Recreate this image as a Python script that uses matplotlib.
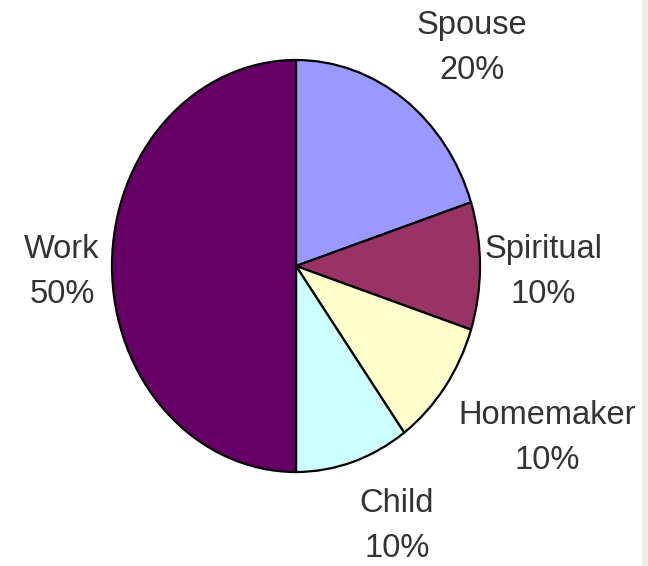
import matplotlib
matplotlib.use("Agg")
import matplotlib.pyplot as plt
from matplotlib.patches import Rectangle

labels = ["Spouse", "Spiritual", "Homemaker", "Child", "Work"]
shares = [20, 10, 10, 10, 50]
colors = ["#9999FF", "#993366", "#FFFFCC", "#CCFFFF", "#660066"]

# label centres in pixels (x, y from top)
label_pos = [(472, 48), (543, 272), (547, 438), (397, 526), (62, 272)]

W, H = 648, 566
fig = plt.figure(figsize=(W / 100, H / 100), dpi=100)
fig.patch.set_facecolor("white")

# pie box: x 112..480, y 60..472 (stretched, not round)
ax = fig.add_axes([112 / W, (H - 472) / H, 368 / W, 412 / H])
ax.pie(shares, colors=colors, startangle=90, counterclock=False,
       wedgeprops=dict(edgecolor="black", linewidth=1.6))
ax.set_aspect("auto")
ax.set_xlim(-1.0, 1.0)
ax.set_ylim(-1.0, 1.0)
ax.axis("off")

for name, val, (px, py) in zip(labels, shares, label_pos):
    fig.text(px / W, 1 - py / H, "%s\n%d%%" % (name, val),
             ha="center", va="center", fontsize=23.5,
             family="Liberation Sans", color="#333333", linespacing=1.58)

# grey strip on the right edge
fig.add_artist(Rectangle((642 / W, 0), 6 / W, 1, transform=fig.transFigure,
                         facecolor="#EEEEE8", edgecolor="none"))

fig.savefig("out.png", dpi=100)
